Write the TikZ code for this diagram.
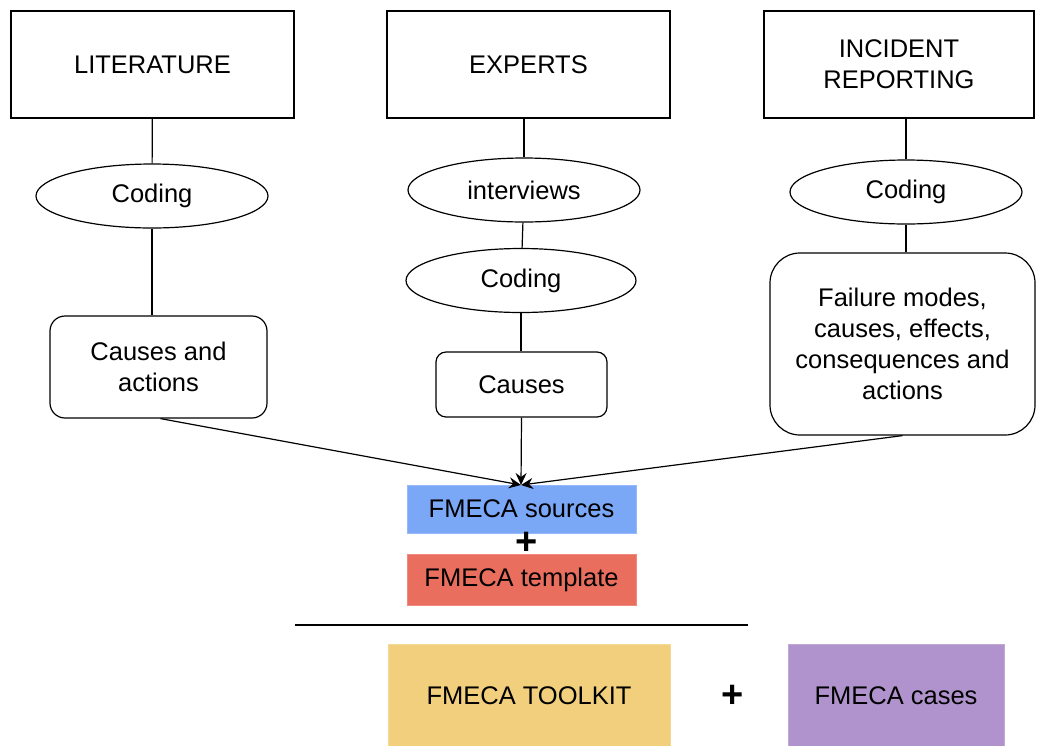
\documentclass[tikz,border=0pt]{standalone}
\usepackage{fontspec}
\setmainfont{Liberation Sans}
\usetikzlibrary{shapes.geometric,arrows.meta}
\definecolor{srcblue}{HTML}{7BA7F7}
\definecolor{tplred}{HTML}{EA6E5E}
\definecolor{kitgold}{HTML}{F2CF7D}
\definecolor{caselilac}{HTML}{B093CC}
\begin{document}
\begin{tikzpicture}[x=1pt,y=-1pt,
  every node/.style={font=\fontsize{25.5}{31}\selectfont, align=center, inner sep=0pt},
  srcbox/.style={draw, line width=1.2pt, minimum width=#1, minimum height=107pt},
  oval/.style={ellipse, draw, line width=1.2pt, minimum width=232pt, minimum height=64pt},
  rbox/.style={draw, line width=1.2pt, rounded corners=15pt},
  fill box/.style={fill=#1, draw=#1!80!white, line width=0.6pt},
  link/.style={line width=1.2pt},
  arr/.style={line width=1.2pt, -{Stealth[length=12pt,width=11pt,inset=4pt]}},
  plusmark/.style={font=\fontsize{38}{38}\selectfont\bfseries}
]
\useasboundingbox (0,0) rectangle (1038,745);

% sources
\node[srcbox=283pt] (lit) at (152.5,64.5) {\raisebox{-3pt}{LITERATURE}};
\node[srcbox=283pt] (exp) at (528.5,64.5) {\raisebox{-3pt}{EXPERTS}};
\node[srcbox=270pt] (inc) at (899,64.5) {INCIDENT\\REPORTING};

% literature branch
\node[oval] (litcode) at (152,196) {\raisebox{-2pt}{Coding}};
\node[rbox, minimum width=217pt, minimum height=102pt] (litout) at (158.5,367) {Causes and\\actions};

% experts branch
\node[oval] (expint) at (524,190) {interviews};
\node[oval, minimum width=230pt] (expcode) at (521,280.5) {\raisebox{-2pt}{Coding}};
\node[rbox, rounded corners=10pt, minimum width=171pt, minimum height=65pt] (expout) at (521.5,384.5) {\raisebox{-2pt}{Causes}};

% incident branch
\node[oval] (inccode) at (906,192) {\raisebox{-2pt}{Coding}};
\node[rbox, rounded corners=30pt, minimum width=265pt, minimum height=182pt] (incout) at (902.5,344) {Failure modes,\\causes, effects,\\consequences and\\actions};

% results
\node[fill box=srcblue, minimum width=229pt, minimum height=48pt] (src) at (521.5,509) {\raisebox{-2pt}{FMECA sources}};
\node[plusmark] (plus1) at (527,543) {+};
\node[fill box=tplred, minimum width=229pt, minimum height=51pt] (tpl) at (521.5,579.5) {\raisebox{-2pt}{FMECA template}};

\coordinate (ruleL) at (295,625);
\coordinate (ruleR) at (748,625);
\draw[line width=1.8pt] (ruleL) -- (ruleR);

\node[fill box=kitgold, minimum width=282pt, minimum height=103pt] (kit) at (529,695.5) {\raisebox{-2pt}{FMECA TOOLKIT}};
\node[plusmark] (plus2) at (733,696) {+};
\node[fill box=caselilac, minimum width=216pt, minimum height=103pt] (cases) at (896,695.5) {\raisebox{-2pt}{FMECA cases}};

% connectors
\draw[link] (lit) -- (litcode);
\draw[link] (litcode) -- (litout.north -| litcode.south);
\draw[link] (exp.south -| expint.north) -- (expint);
\draw[link] (expint) -- (expcode);
\draw[link] (expcode) -- (expout.north -| expcode.south);
\draw[link] (inc.south -| inccode.north) -- (inccode);
\draw[link] (inccode) -- (incout.north -| inccode.south);

\coordinate (meet) at (521,485);
\draw[arr] ([xshift=2pt]litout.south) -- (meet);
\draw[arr] (expout.south) -- (meet);
\draw[arr] (incout.south) -- (meet);
\end{tikzpicture}
\end{document}
